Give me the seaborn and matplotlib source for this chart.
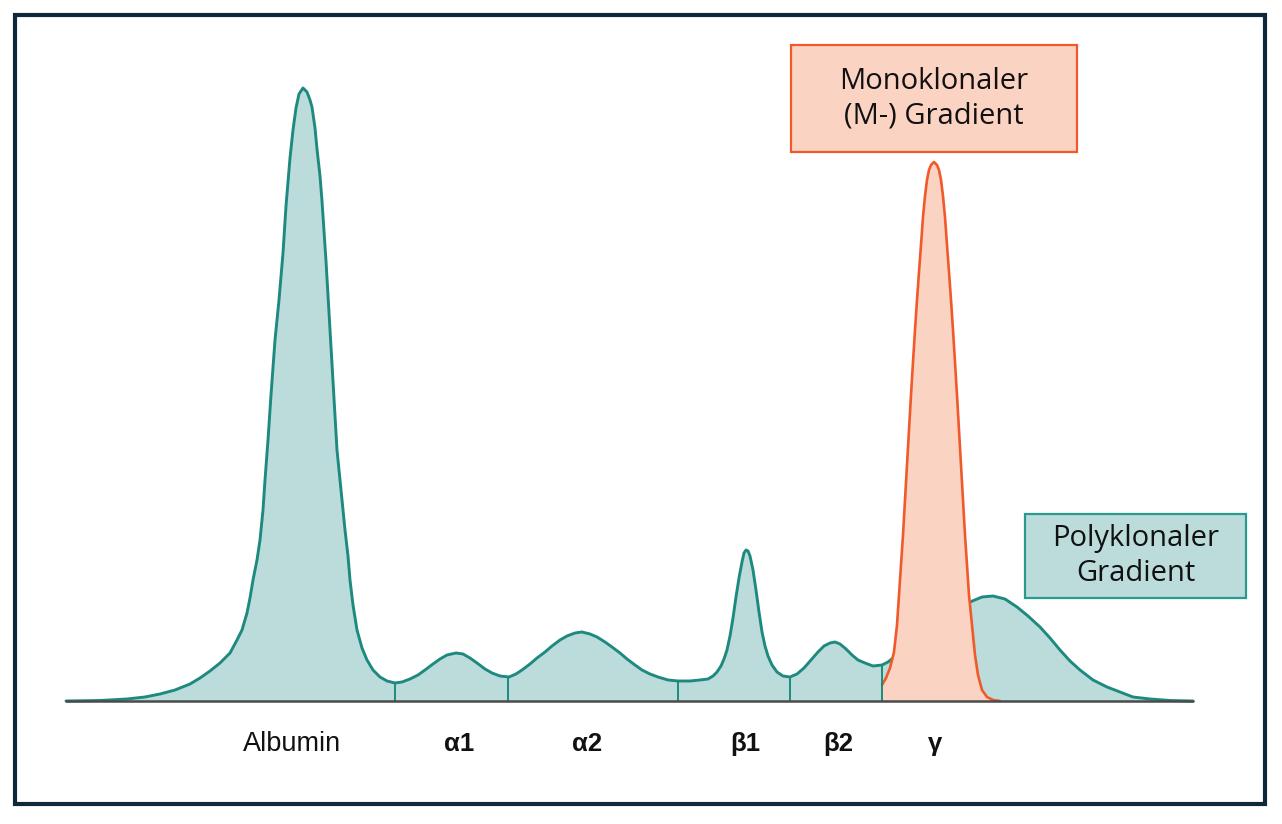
import numpy as np
import pandas as pd
import seaborn as sns
import matplotlib.pyplot as plt
from matplotlib.patches import Rectangle

teal_x = [66, 100, 127, 145, 160, 175, 190, 200, 210, 220, 230, 237, 242, 247, 250, 253, 257,
          260, 263, 265, 268, 271, 275, 279, 283, 286, 290, 293, 296, 299, 303, 307, 310, 312,
          315, 317, 320, 322, 326, 330, 334, 337, 340, 343, 345, 348, 350, 353, 357, 362, 367,
          373, 380, 387, 395, 402, 410, 418, 425, 433, 440, 447, 456, 463, 470, 477, 485, 492,
          500, 509, 516, 522, 530, 537, 545, 552, 560, 567, 575, 582, 590, 597, 605, 612, 620,
          627, 635, 642, 650, 658, 668, 678, 690, 700, 708, 713, 717, 721, 724, 727, 730, 733,
          736, 739, 742, 744, 746, 748, 750, 753, 756, 759, 762, 765, 768, 772, 777, 783, 790,
          797, 804, 811, 818, 824, 830, 835, 840, 846, 852, 858, 865, 873, 882, 888, 893, 905,
          920, 940, 958, 970, 982, 993, 1005, 1017, 1028, 1040, 1050, 1060, 1070, 1080, 1093,
          1107, 1120, 1133, 1150, 1170, 1193]
teal_h = [0, 0.5, 2, 4, 7, 11, 17, 23, 30, 38, 48, 61, 71, 88, 103, 121, 141,
          161, 191, 221, 261, 306, 361, 401, 448, 495, 543, 571, 593, 607, 613, 609, 601, 594,
          573, 552, 525, 500, 440, 371, 301, 251, 221, 191, 171, 145, 121, 96, 71, 53, 41,
          31, 24, 20, 18, 19, 22, 26, 31, 37, 42, 46, 48, 47, 43, 38, 32, 28,
          25, 24, 27, 31, 37, 43, 49, 55, 61, 65, 68, 69, 67, 64, 59, 54, 48,
          42, 36, 31, 27, 24, 21, 20, 20, 21, 22, 25, 29, 35, 42, 51, 65, 83,
          104, 123, 139, 148, 151, 150, 145, 131, 111, 89, 69, 55, 45, 36, 29, 25, 24,
          27, 33, 41, 49, 55, 58, 59, 57, 52, 46, 41, 38, 35, 36, 39, 43, 53,
          65, 81, 93, 99, 104, 105, 102, 94, 85, 74, 63, 51, 40, 31, 21,
          14, 9, 4, 2, 0.5, 0]

# Monoklonaler Gradient (M-Gradient)
m_x = [882, 886, 890, 894, 897, 899, 901, 903, 905, 907, 909, 911, 913, 915, 917, 919, 921,
       923, 925, 927, 929, 931, 934, 937, 939, 941, 943, 945, 947, 949, 951, 953, 955, 957,
       959, 961, 963, 965, 967, 969, 971, 973, 975, 978, 982, 987, 993, 1000]
m_h = [16, 23, 33, 49, 76, 106, 136, 166, 201, 236, 271, 306, 339, 371, 401, 429, 456,
       484, 505, 521, 531, 536, 539, 536, 531, 521, 505, 484, 456, 429, 401, 371, 339, 306,
       271, 236, 201, 166, 136, 106, 86, 66, 46, 26, 11, 4, 1, 0]

# Fraktionsgrenzen und Beschriftungen
sep_x = [395, 508, 678, 790, 882]
labels = ["Albumin", "α1", "α2", "β1", "β2", "γ"]
label_x = [292, 459, 587, 745, 838, 935]

teal = "#1e8a7f"
teal_fill = "#bcdcdb"
orange = "#f05a2a"
orange_fill = "#fbd3c3"

sns.set_theme(style="white")
plt.rcParams['font.family'] = ['Liberation Sans', 'DejaVu Sans']

fig = plt.figure(figsize=(12.82, 8.24), dpi=100)
ax = fig.add_axes([0, 0, 1, 1])
ax.set_xlim(0, 1282)
ax.set_ylim(-123, 701)
ax.axis("off")

df = pd.DataFrame({"x": teal_x, "h": teal_h})
dm = pd.DataFrame({"x": m_x, "h": m_h})

ax.fill_between(df["x"], 0, df["h"], color=teal_fill, lw=0, zorder=1)
sns.lineplot(data=df, x="x", y="h", ax=ax, color=teal, linewidth=2.1, sort=False,
             estimator=None, zorder=2)
ax.fill_between(dm["x"], 0, dm["h"], color=orange_fill, lw=0, zorder=3)
sns.lineplot(data=dm, x="x", y="h", ax=ax, color=orange, linewidth=1.9, sort=False,
             estimator=None, zorder=4)

sep_top = np.interp(sep_x, teal_x, teal_h)
ax.vlines(sep_x, 0, sep_top, color=teal, linewidth=1.4, zorder=5)
ax.plot([66, 1193], [0, 0], color="#4a4a4a", linewidth=1.8, zorder=6)

for lab, lx in zip(labels, label_x):
    bold = lab != "Albumin"
    ax.text(lx, -43, lab, ha="center", va="center",
            fontsize=18.5 if bold else 19.5, fontweight="bold" if bold else "normal",
            color="#111111")

# Beschriftungskästen
ax.add_patch(Rectangle((791, 549), 286, 107, facecolor=orange_fill, edgecolor=orange,
                       linewidth=1.6, zorder=7))
ax.text(934, 602, "Monoklonaler\n(M-) Gradient", ha="center", va="center",
        fontsize=21, family=["Open Sans", "DejaVu Sans"], linespacing=1.25, color="#111111",
        zorder=8)
ax.add_patch(Rectangle((1025, 103), 221, 84, facecolor=teal_fill, edgecolor="#2a9a8c",
                       linewidth=1.6, zorder=7))
ax.text(1136, 145, "Polyklonaler\nGradient", ha="center", va="center",
        fontsize=21, family=["Open Sans", "DejaVu Sans"], linespacing=1.25, color="#111111",
        zorder=8)

# Rahmen
fig.patches.append(Rectangle((15 / 1282, 20 / 824), 1250 / 1282, 789 / 824,
                             transform=fig.transFigure, fill=False, edgecolor="#10293a",
                             linewidth=3.0))

fig.savefig("out.png", dpi=100)
